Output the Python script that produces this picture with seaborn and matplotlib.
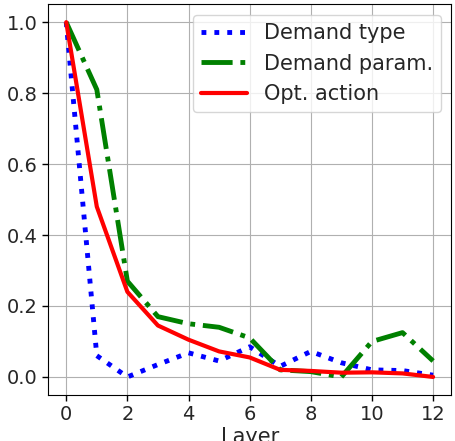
import matplotlib
matplotlib.use("Agg")
import matplotlib.pyplot as plt
import seaborn as sns
import pandas as pd

layers = list(range(13))
demand_type = [1.0, 0.06, 0.0, 0.035, 0.068, 0.045, 0.085, 0.03, 0.072, 0.04, 0.02, 0.018, 0.005]
demand_param = [1.0, 0.81, 0.27, 0.17, 0.15, 0.14, 0.11, 0.02, 0.015, 0.0, 0.1, 0.125, 0.045]
opt_action = [1.0, 0.48, 0.24, 0.145, 0.105, 0.072, 0.055, 0.02, 0.017, 0.012, 0.013, 0.01, 0.0]

sns.set_style("white")
plt.rcParams['font.family'] = ['DejaVu Sans']
fig, ax = plt.subplots(figsize=(4.56, 4.41), dpi=100)
df = pd.DataFrame({"layer": layers, "t": demand_type, "p": demand_param, "a": opt_action})
sns.lineplot(data=df, x="layer", y="t", ax=ax, color="blue", linestyle=":", linewidth=3.5, label="Demand type")
sns.lineplot(data=df, x="layer", y="p", ax=ax, color="green", linestyle="-.", linewidth=3.5, label="Demand param.")
sns.lineplot(data=df, x="layer", y="a", ax=ax, color="red", linestyle="-", linewidth=3, label="Opt. action")
ax.grid(True, color="#b0b0b0", linewidth=0.8)
ax.set_xlabel("Layer", fontsize=15, labelpad=2)
ax.set_ylabel("Prediction error", fontsize=15, labelpad=4)
ax.tick_params(labelsize=14, length=4, width=1, bottom=True, left=True, color="black")
ax.set_xticks([0, 2, 4, 6, 8, 10, 12])
for s in ax.spines.values():
    s.set_color("black")
ax.legend(fontsize=15, loc="upper right", handlelength=2.2)
fig.subplots_adjust(left=0.105, right=0.99, top=0.99, bottom=0.105)
fig.savefig("out.png", dpi=100)
